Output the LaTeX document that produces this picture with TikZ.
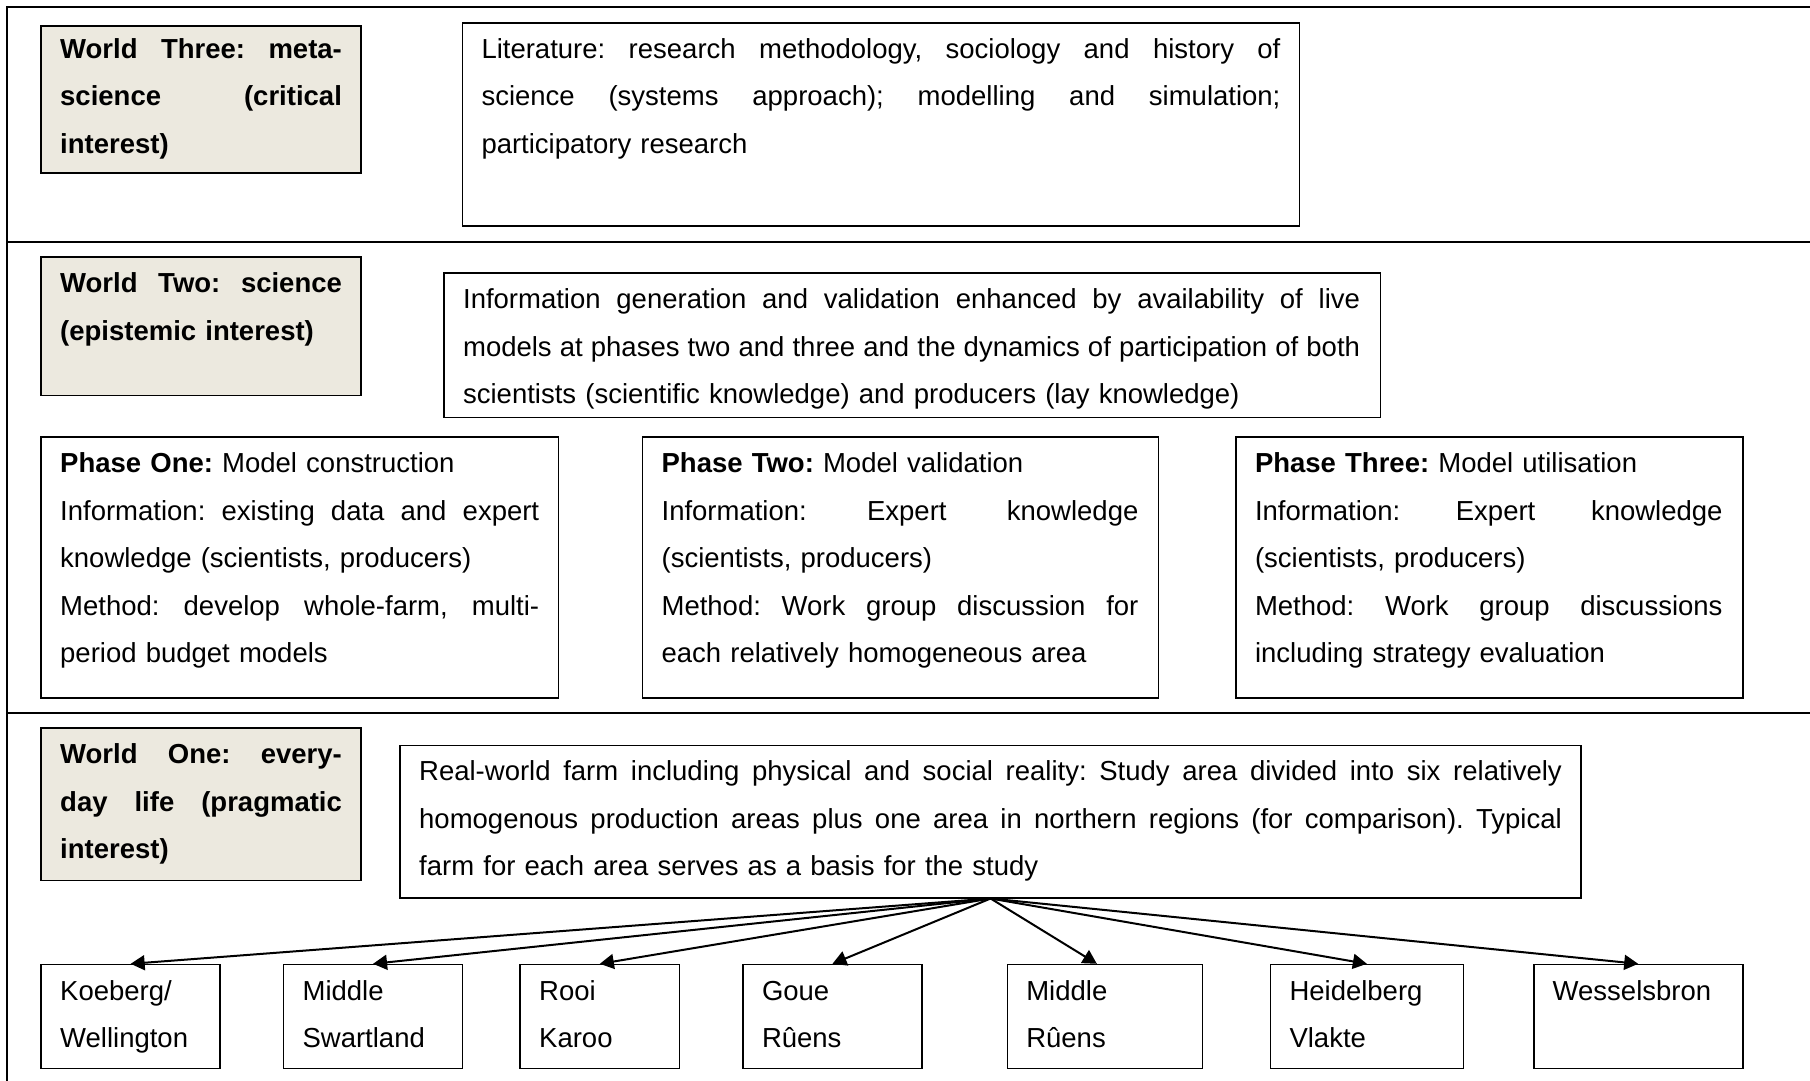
\documentclass[tikz,border=0pt]{standalone}
\usepackage{fontspec}
\setmainfont{Liberation Sans}
\usetikzlibrary{arrows.meta}
\frenchspacing
\definecolor{worldfill}{RGB}{236,233,223}
\newcommand\firstln{\rule{0pt}{36pt}}
\newcommand\jline[1]{\leavevmode\hbox to \hsize{\spaceskip=0.278em plus 10em\relax #1}}
\tikzset{
  box/.style={draw, line width=1.6pt, inner sep=0pt, anchor=north west},
  world/.style={box, fill=worldfill},
  txt/.style={inner sep=0pt, anchor=north west, align=left, font=\fontsize{27.5}{47.6}\selectfont\frenchspacing},
  frameline/.style={line width=2pt},
  arr/.style={line width=2pt, -{Triangle[length=14pt,width=15pt]}}
}
\begin{document}
\begin{tikzpicture}[x=1pt,y=-1pt]
\useasboundingbox (0,0) rectangle (1810,1080);
% frame
\coordinate (ftl) at (6.5,7);
\coordinate (fbl) at (6.5,1082);
\coordinate (ftr) at (1812,7);
\coordinate (d1l) at (6.5,242);
\coordinate (d1r) at (1812,242);
\coordinate (d2l) at (6.5,713);
\coordinate (d2r) at (1812,713);
\draw[frameline] (fbl) -- (ftl) -- (ftr);
\draw[frameline] (d1l) -- (d1r);
\draw[frameline] (d2l) -- (d2r);

% World Three
\node[world, minimum width=319.7pt, minimum height=146.6pt] (w3) at (40.4,25.4) {};
\node[txt, text width=281.7pt] (w3t) at ([xshift=19.6pt,yshift=3.5pt]w3.north west) {\bfseries
  \firstln\jline{World Three: meta-}\\
  \jline{science (critical}\\
  interest)};
\node[box, minimum width=836.9pt, minimum height=203.2pt] (lit) at (461.7,21.9) {};
\node[txt, text width=799pt] (litt) at ([xshift=19.6pt]lit.north west) {
  \firstln\jline{Literature: research methodology, sociology and history of}\\
  \jline{science (systems approach); modelling and simulation;}\\
  participatory research};

% World Two
\node[world, minimum width=319.7pt, minimum height=138.5pt] (w2) at (40.4,256.3) {};
\node[txt, text width=281.7pt] (w2t) at ([xshift=19.6pt]w2.north west) {\bfseries
  \firstln\jline{World Two: science}\\
  (epistemic interest)};
\node[box, minimum width=936.2pt, minimum height=144.3pt] (info) at (443.3,272.4) {};
\node[txt, text width=897pt] (infot) at ([xshift=19.6pt]info.north west) {
  \firstln\jline{Information generation and validation enhanced by availability of live}\\
  \jline{models at phases two and three and the dynamics of participation of both}\\
  scientists (scientific knowledge) and producers (lay knowledge)};

% Phases
\node[box, minimum width=517.1pt, minimum height=260.9pt] (p1) at (40.4,436.3) {};
\node[txt, text width=479pt] (p1t) at ([xshift=19.6pt]p1.north west) {
  \firstln\textbf{Phase One:} Model construction\\
  \jline{Information: existing data and expert}\\
  knowledge (scientists, producers)\\
  \jline{Method: develop whole-farm, multi-}\\
  period budget models};
\node[box, minimum width=516pt, minimum height=260.9pt] (p2) at (641.8,436.3) {};
\node[txt, text width=476.8pt] (p2t) at ([xshift=19.6pt]p2.north west) {
  \firstln\textbf{Phase Two:} Model validation\\
  \jline{Information: Expert knowledge}\\
  (scientists, producers)\\
  \jline{Method: Work group discussion for}\\
  each relatively homogeneous area};
\node[box, minimum width=506.7pt, minimum height=260.9pt] (p3) at (1235.2,436.3) {};
\node[txt, text width=467.5pt] (p3t) at ([xshift=19.6pt]p3.north west) {
  \firstln\textbf{Phase Three:} Model utilisation\\
  \jline{Information: Expert knowledge}\\
  (scientists, producers)\\
  \jline{Method: Work group discussions}\\
  including strategy evaluation};

% World One
\node[world, minimum width=319.7pt, minimum height=152.4pt] (w1) at (40.4,727.2) {};
\node[txt, text width=281.7pt] (w1t) at ([xshift=19.6pt]w1.north west) {\bfseries
  \firstln\jline{World One: every-}\\
  \jline{day life (pragmatic}\\
  interest)};
\node[box, minimum width=1180.8pt, minimum height=152.4pt] (real) at (399.4,744.5) {};
\node[txt, text width=1142.7pt] (realt) at ([xshift=19.6pt]real.north west) {
  \firstln\jline{Real-world farm including physical and social reality: Study area divided into six relatively}\\
  \jline{homogenous production areas plus one area in northern regions (for comparison). Typical}\\
  farm for each area serves as a basis for the study};

% Areas
\node[box, minimum width=178.9pt, minimum height=103.9pt] (k) at (40.4,963.8) {};
\node[txt] (kt) at ([xshift=19.6pt]k.north west) {\firstln Koeberg/\\Wellington};
\node[box, minimum width=178.9pt, minimum height=103.9pt] (ms) at (282.8,963.8) {};
\node[txt] (mst) at ([xshift=19.6pt]ms.north west) {\firstln Middle\\Swartland};
\node[box, minimum width=159.3pt, minimum height=103.9pt] (rk) at (519.4,963.8) {};
\node[txt] (rkt) at ([xshift=19.6pt]rk.north west) {\firstln Rooi\\Karoo};
\node[box, minimum width=178.9pt, minimum height=103.9pt] (gr) at (742.2,963.8) {};
\node[txt] (grt) at ([xshift=19.6pt]gr.north west) {\firstln Goue\\Rûens};
\node[box, minimum width=195.1pt, minimum height=103.9pt] (mr) at (1006.5,963.8) {};
\node[txt] (mrt) at ([xshift=19.6pt]mr.north west) {\firstln Middle\\Rûens};
\node[box, minimum width=192.8pt, minimum height=103.9pt] (hv) at (1269.7,963.8) {};
\node[txt] (hvt) at ([xshift=19.6pt]hv.north west) {\firstln Heidelberg\\Vlakte};
\node[box, minimum width=209pt, minimum height=103.9pt] (wb) at (1532.9,963.8) {};
\node[txt] (wbt) at ([xshift=19.6pt]wb.north west) {\firstln Wesselsbron};

% arrows
\draw[arr] (real.south) -- (k.north);
\draw[arr] (real.south) -- (ms.north);
\draw[arr] (real.south) -- (rk.north);
\draw[arr] (real.south) -- (gr.north);
\draw[arr] (real.south) -- ([xshift=-8pt]mr.north);
\draw[arr] (real.south) -- (hv.north);
\draw[arr] (real.south) -- (wb.north);
\end{tikzpicture}
\end{document}
